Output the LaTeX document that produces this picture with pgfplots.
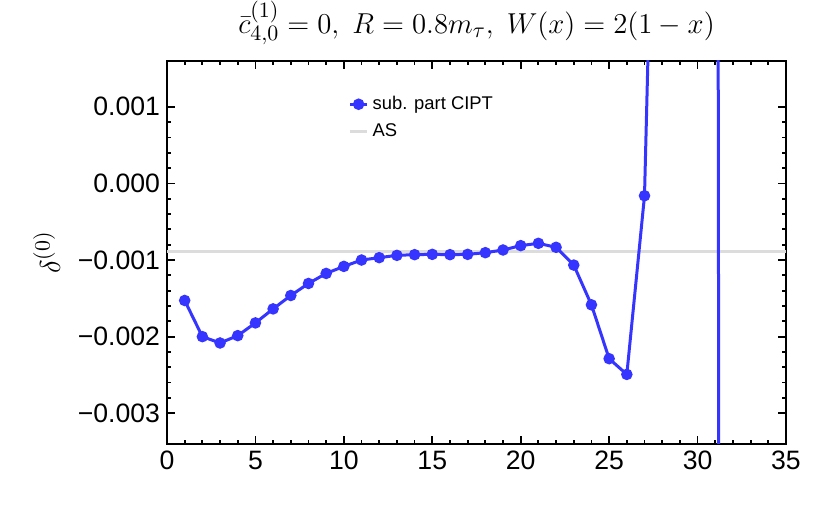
\documentclass[border=0pt]{standalone}
\usepackage{fontspec}
\setmainfont{Liberation Sans}
\usepackage{pgfplots}
\pgfplotsset{compat=1.18}
\definecolor{cipt}{HTML}{3535FF}
\definecolor{asgrey}{HTML}{DCDCDC}

\begin{document}
\begin{tikzpicture}
\begin{axis}[
  scale only axis,
  width=309.5pt, height=191.5pt,
  xmin=0, xmax=35, ymin=-0.0034, ymax=0.0016,
  xtick={0,5,...,35},
  minor x tick num=4,
  ytick={-0.003,-0.002,-0.001,0,0.001},
  yticklabels={−0.003,−0.002,−0.001,0.000,0.001},
  minor y tick num=4,
  tick align=inside,
  major tick length=4pt, minor tick length=2pt,
  tick style={black, line width=0.9pt},
  axis line style={line width=1.2pt},
  ticklabel style={font=\fontsize{13.3}{15}\selectfont},
  /pgf/number format/assume math mode=true,
  scaled y ticks=false,
  ylabel={$\delta^{(0)}$},
  ylabel style={font=\fontsize{15.5}{17}\selectfont, yshift=2pt},
  title={$\bar{c}^{(1)}_{4,0}=0,\ R=0.8m_\tau,\ W(x)=2(1-x)$},
  title style={font=\fontsize{15.2}{17}\selectfont, yshift=-1.5pt},
  legend style={draw=none, fill=none, font=\fontsize{9.2}{11}\selectfont,
    at={(0.283,0.93)}, anchor=north west, row sep=1.5pt},
  legend cell align=left,
  legend image code/.code={\draw[mark repeat=2,mark phase=2,#1]
    plot coordinates {(0cm,0cm) (0.15cm,0cm) (0.3cm,0cm)};},
]
% AS reference value (drawn first so it sits under the CIPT curve)
\addplot[asgrey, line width=1.5pt, forget plot] coordinates {(0,-0.000895) (35,-0.000895)};

\addplot[cipt, line width=1.5pt, mark=*, mark size=2.1pt] coordinates {
(1,-0.001528) (2,-0.002000) (3,-0.002083) (4,-0.001987) (5,-0.001821)
(6,-0.001638) (7,-0.001463) (8,-0.001306) (9,-0.001175) (10,-0.001083)
(11,-0.001000) (12,-0.000969) (13,-0.000939) (14,-0.000930) (15,-0.000926)
(16,-0.000930) (17,-0.000926) (18,-0.000904) (19,-0.000869) (20,-0.000812)
(21,-0.000782) (22,-0.000834) (23,-0.001066) (24,-0.001585) (25,-0.002288)
(26,-0.002493) (27,-0.000161) (28,0.0091) (29,0.014) (30,0.02) (31,0.03) (32,-0.14)
};
\addlegendentry{sub. part CIPT}
\addlegendimage{asgrey, line width=1.5pt}
\addlegendentry{AS}
\end{axis}
\pgfresetboundingbox
\path[use as bounding box] ([xshift=-83.5pt,yshift=-43.5pt]current axis.south west)
  rectangle ([xshift=22pt,yshift=30.5pt]current axis.north east);
\end{tikzpicture}
\end{document}
